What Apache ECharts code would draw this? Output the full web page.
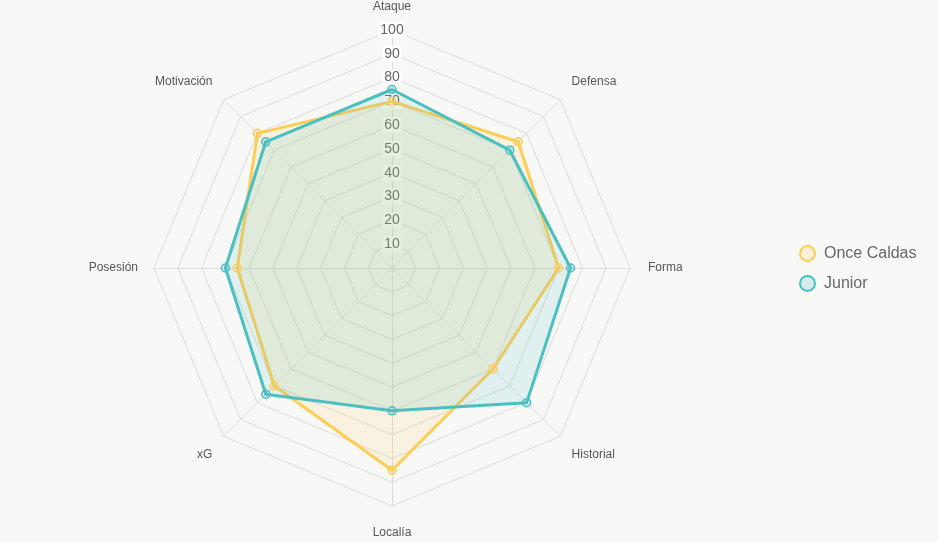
<!DOCTYPE html>
<html>
<head>
<meta charset="utf-8">
<script src="https://cdn.jsdelivr.net/npm/echarts@6/dist/echarts.min.js"></script>
<style>
  html, body { margin: 0; padding: 0; background: #f8f8f7; }
  #chart { width: 939px; height: 542px; }
</style>
</head>
<body>
<div id="chart"></div>
<script>
// clockwise from the top
var indicators = ['Ataque', 'Defensa', 'Forma', 'Historial', 'Localía', 'xG', 'Posesión', 'Motivación'];
var onceCaldas = [70, 75, 70, 60, 85, 70, 65, 80];
var junior = [75, 70, 75, 80, 60, 75, 70, 75];
var seriesNames = ['Once Caldas', 'Junior'];

// names on the diagonals sit a bit higher / lower in the original
var upperNames = ['Defensa', 'Motivación'];
var lowerNames = ['Historial', 'xG'];
var namePads = {
    'Localía': [4, 0, 0, 0],
    'Forma': [0, 0, 0, 2]
};

// echarts lays radar axes out counter-clockwise, so flip the order (keep the first)
function ccw(arr) {
    return [arr[0]].concat(arr.slice(1).reverse());
}

var myChart = echarts.init(document.getElementById('chart'));

var option = {
    backgroundColor: '#f8f8f7',
    textStyle: { fontFamily: 'Liberation Sans, Arial, sans-serif' },
    legend: {
        orient: 'vertical',
        left: 794,
        top: 240,
        itemWidth: 15,
        itemHeight: 15,
        itemGap: 13,
        icon: 'circle',
        textStyle: { fontSize: 16, color: '#666', padding: [0, 0, 0, 4] },
        data: seriesNames
    },
    radar: {
        center: [392, 268],
        radius: 238,
        startAngle: 90,
        splitNumber: 10,
        shape: 'polygon',
        axisName: {
            color: '#555',
            fontSize: 12,
            lineHeight: 14,
            formatter: function (name) {
                if (upperNames.indexOf(name) >= 0) return name + '\n ';
                if (lowerNames.indexOf(name) >= 0) return ' \n' + name;
                return name;
            }
        },
        nameGap: 16,
        splitArea: { show: false },
        splitLine: { lineStyle: { color: '#dcdcdc', width: 1 } },
        axisLine: { lineStyle: { color: '#dcdcdc', width: 1 } },
        axisLabel: {
            show: true,
            showMinLabel: false,
            color: '#666',
            fontSize: 14,
            margin: 0,
            align: 'center',
            verticalAlign: 'middle',
            backgroundColor: 'rgba(255,255,255,0.8)',
            padding: [1, 2]
        },
        indicator: ccw(indicators).map(function (name, i) {
            var ind = { name: name, min: 0, max: 100 };
            if (i > 0) ind.axisLabel = { show: false };
            if (namePads[name]) ind.nameTextStyle = { padding: namePads[name] };
            return ind;
        })
    },
    series: [{
        type: 'radar',
        symbol: 'circle',
        symbolSize: 8,
        data: [{
            name: 'Once Caldas',
            value: ccw(onceCaldas),
            lineStyle: { color: '#ffcd56', width: 3 },
            itemStyle: { color: 'rgba(255,205,86,0.2)', borderColor: '#ffcd56', borderWidth: 1.5 },
            areaStyle: { color: 'rgba(255,205,86,0.2)' }
        }, {
            name: 'Junior',
            value: ccw(junior),
            lineStyle: { color: '#4bc0c0', width: 3 },
            itemStyle: { color: 'rgba(75,192,192,0.2)', borderColor: '#4bc0c0', borderWidth: 1.5 },
            areaStyle: { color: 'rgba(75,192,192,0.2)' }
        }]
    }]
};

myChart.setOption(option);
</script>
</body>
</html>
